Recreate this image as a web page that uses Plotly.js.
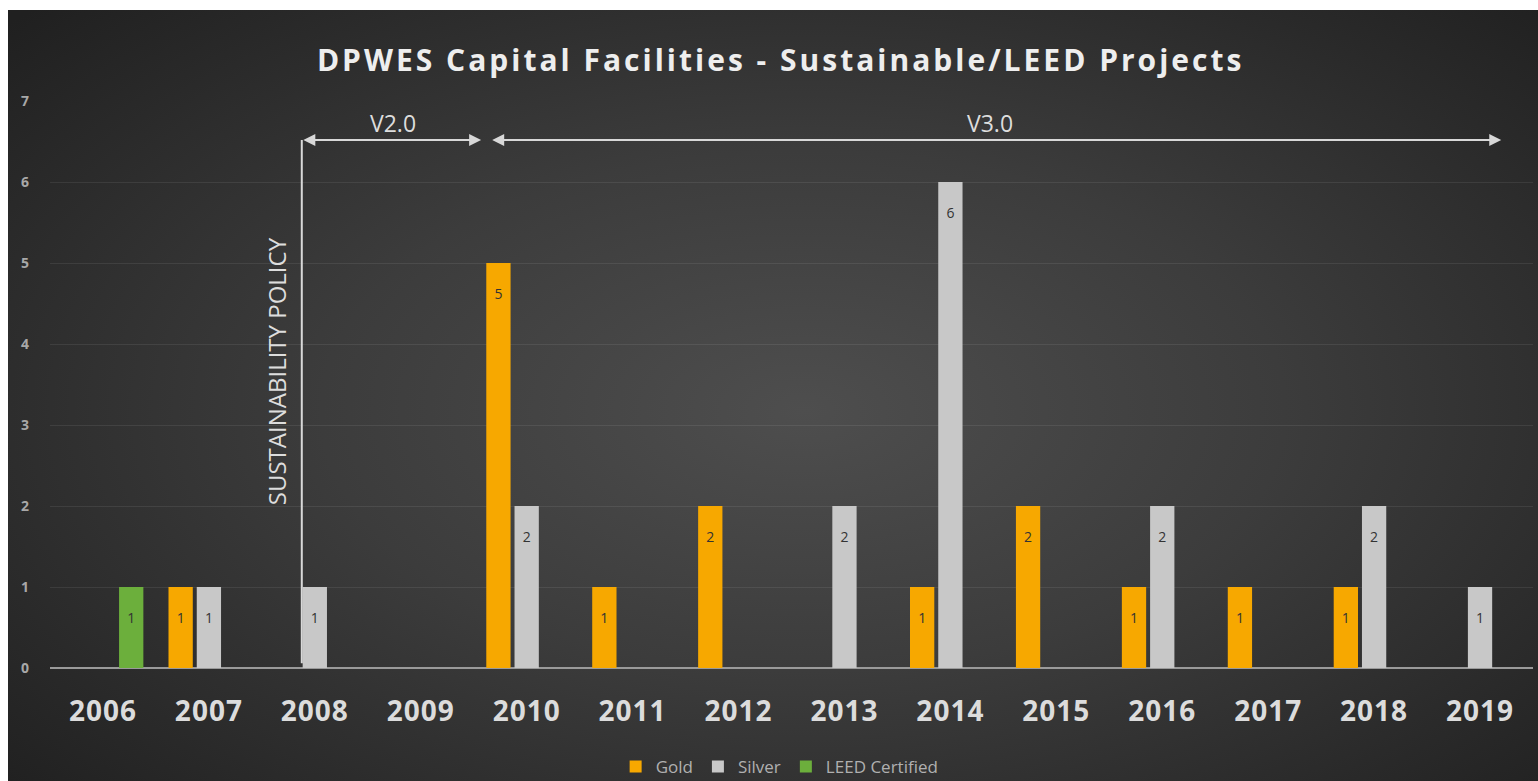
<!DOCTYPE html>
<html>
<head>
<meta charset="utf-8">
<script src="https://cdn.plot.ly/plotly-3.0.1.min.js"></script>
<style>
  html, body { margin: 0; padding: 0; background: #ffffff; width: 1538px; height: 781px; overflow: hidden; }
  #wrap { position: absolute; left: 8px; top: 10px; width: 1530px; height: 771px;
    background: radial-gradient(ellipse 70% 75% at 52% 52%, #4e4e4e 0%, #3c3c3c 45%, #2a2a2a 80%, #202020 100%); }
  #chart { width: 1530px; height: 771px; }
  .gtitle { letter-spacing: 3px; }
  .xtick text { letter-spacing: 1px; }
</style>
</head>
<body>
<div id="wrap"><div id="chart"></div></div>
<script>
const years = ['2006','2007','2008','2009','2010','2011','2012','2013','2014','2015','2016','2017','2018','2019'];
const gold   = [null, 1, null, null, 5, 1, 2, null, 1, 2, 1, 1, 1, null];
const silver = [null, 1, 1, null, 2, null, null, 2, 6, null, 2, null, 2, 1];
const leed   = [1, null, null, null, null, null, null, null, null, null, null, null, null, null];
const seriesNames = ['Gold', 'Silver', 'LEED Certified'];
const seriesColors = ['#F7A800', '#C8C8C8', '#6CAF3C'];
const yTicks = [0, 1, 2, 3, 4, 5, 6, 7];

function lab(arr) { return arr.map(v => v == null ? '' : '\u00a0<br>' + v); }

const traces = [gold, silver, leed].map((vals, i) => ({
  type: 'bar',
  name: seriesNames[i],
  x: years,
  y: vals,
  marker: { color: seriesColors[i], line: { width: 0 } },
  text: lab(vals),
  textposition: 'inside',
  insidetextanchor: 'end',
  textangle: 0,
  constraintext: 'none',
  textfont: { family: 'Open Sans, sans-serif', size: 14, color: '#333333' },
  hoverinfo: 'x+y+name'
}));

const txt = '#dddddd';
const arrowY = 6.52;

const layout = {
  width: 1530, height: 771,
  paper_bgcolor: 'rgba(0,0,0,0)',
  plot_bgcolor: 'rgba(0,0,0,0)',
  margin: { l: 42, r: 5, t: 91, b: 113, autoexpand: false },
  barmode: 'group',
  bargap: 0.2,
  bargroupgap: 0.14,
  title: {
    text: 'DPWES Capital Facilities - Sustainable/LEED Projects',
    font: { family: 'Open Sans, sans-serif', size: 30, color: '#eeeeee', weight: 'bold' },
    x: 0.505, xanchor: 'center', y: 0.935, yanchor: 'middle', yref: 'container'
  },
  xaxis: {
    type: 'category',
    categoryorder: 'array', categoryarray: years,
    showgrid: false, showline: false, zeroline: false,
    ticks: '',
    tickfont: { family: 'Open Sans, sans-serif', size: 28, color: '#dcdcdc', weight: 'bold' },
    ticklabelstandoff: 24,
    fixedrange: true
  },
  yaxis: {
    range: [0, 7],
    tickvals: yTicks,
    showgrid: true, gridcolor: 'rgba(255,255,255,0.08)', gridwidth: 1,
    zeroline: true, zerolinecolor: '#9a9a9a', zerolinewidth: 2,
    showline: false, ticks: '',
    tickfont: { family: 'Open Sans, sans-serif', size: 14, color: '#a8a8a8', weight: 'bold' },
    ticklabelstandoff: 20,
    fixedrange: true
  },
  showlegend: true,
  legend: {
    orientation: 'h', x: 0.492, xanchor: 'center', y: -0.1746, yanchor: 'middle',
    font: { family: 'Open Sans, sans-serif', size: 17, color: '#b0b0b0' },
    bgcolor: 'rgba(0,0,0,0)', itemwidth: 30, traceorder: 'normal'
  },
  shapes: [
    { type: 'line', xref: 'x', yref: 'y', x0: 1.877, x1: 1.877, y0: 0.06, y1: arrowY,
      line: { color: '#d8d8d8', width: 2 } }
  ],
  annotations: [
    { xref: 'x', yref: 'y', x: 3.57, y: arrowY, axref: 'x', ayref: 'y', ax: 1.877, ay: arrowY,
      text: '', showarrow: true, arrowside: 'end+start', arrowhead: 2, arrowsize: 1.2,
      arrowwidth: 2, arrowcolor: '#d8d8d8', standoff: 0, startstandoff: 0 },
    { xref: 'x', yref: 'y', x: 13.2, y: arrowY, axref: 'x', ayref: 'y', ax: 3.66, ay: arrowY,
      text: '', showarrow: true, arrowside: 'end+start', arrowhead: 2, arrowsize: 1.2,
      arrowwidth: 2, arrowcolor: '#d8d8d8', standoff: 0, startstandoff: 0 },
    { xref: 'x', yref: 'y', x: 2.736, y: 6.73, text: 'V2.0', showarrow: false,
      font: { family: 'Open Sans, sans-serif', size: 23, color: txt } },
    { xref: 'x', yref: 'y', x: 8.377, y: 6.73, text: 'V3.0', showarrow: false,
      font: { family: 'Open Sans, sans-serif', size: 23, color: txt } },
    { xref: 'x', yref: 'y', x: 1.64, y: 3.66, text: 'SUSTAINABILITY POLICY', showarrow: false,
      textangle: -90, font: { family: 'Open Sans, sans-serif', size: 24, color: txt } }
  ]
};

Plotly.newPlot('chart', traces, layout, { displayModeBar: false, staticPlot: true });
</script>
</body>
</html>
